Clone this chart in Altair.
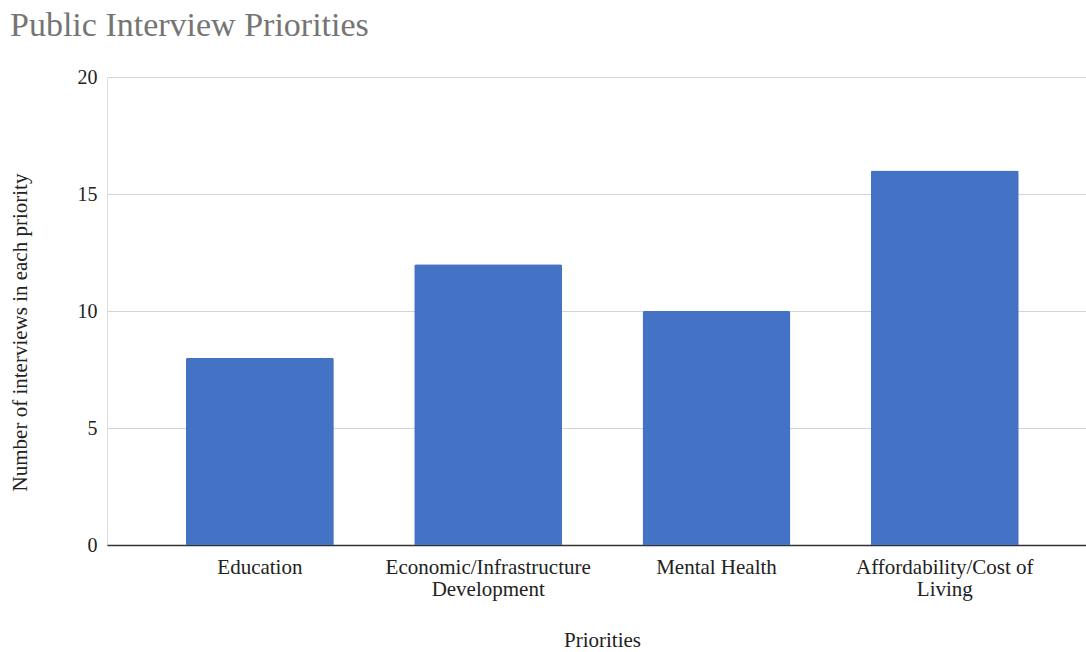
import altair as alt
import pandas as pd

categories = ["Education", "Economic/Infrastructure Development", "Mental Health", "Affordability/Cost of Living"]
label_lines = [["Education"], ["Economic/Infrastructure", "Development"], ["Mental Health"], ["Affordability/Cost of", "Living"]]
values = [8, 12, 10, 16]
y_ticks = [0, 5, 10, 15, 20]

df = pd.DataFrame({"Priority": categories, "Count": values})

# build label expression for wrapped labels
parts = []
for cat, lines in zip(categories, label_lines):
    arr = "[" + ",".join("'" + l + "'" for l in lines) + "]"
    parts.append(f"datum.label == '{cat}' ? {arr}")
label_expr = " : ".join(parts) + " : datum.label"

FONT = "Liberation Serif"

chart = alt.Chart(df).mark_bar(
    color="#4472C4", cornerRadiusTopLeft=2, cornerRadiusTopRight=2
).encode(
    x=alt.X("Priority:N", sort=categories,
            scale=alt.Scale(paddingInner=0.352, paddingOuter=0.32, align=0.54),
            axis=alt.Axis(title="Priorities", labelAngle=0, labelExpr=label_expr,
                          labelFontSize=21, labelLineHeight=22, labelPadding=11,
                          labelLimit=0,
                          labelColor="#222222", labelFont=FONT,
                          ticks=False, domainColor="#333333", domainWidth=1.5,
                          titleFont=FONT, titleFontSize=21, titleFontWeight="normal",
                          titleColor="#222222", titleX=495, titleY=101,
                          titleAlign="center", titleBaseline="alphabetic")),
    y=alt.Y("Count:Q", scale=alt.Scale(domain=[0, 20], nice=False),
            axis=alt.Axis(title="Number of interviews in each priority", values=y_ticks,
                          labelFontSize=20, labelPadding=10, labelColor="#222222",
                          labelFont=FONT, ticks=False, domain=False,
                          gridColor="#d4d4d4", gridWidth=1,
                          titleFont=FONT, titleFontSize=21, titleFontWeight="normal",
                          titleColor="#222222", titleX=-81, titleY=255,
                          titleAngle=-90, titleAlign="center", titleBaseline="alphabetic")),
).properties(
    width=979, height=468,
    title=alt.TitleParams("Public Interview Priorities", anchor="start", frame="group",
                          font=FONT, fontSize=34, fontWeight="normal", color="#757575",
                          dx=-97, offset=24),
    autosize=alt.AutoSizeParams(type="none"),
    padding={"left": 107, "top": 77, "right": 0, "bottom": 107},
).configure_view(stroke=None).configure(background="white")

chart.save("out.html", embed_options={"renderer": "svg", "actions": False})
